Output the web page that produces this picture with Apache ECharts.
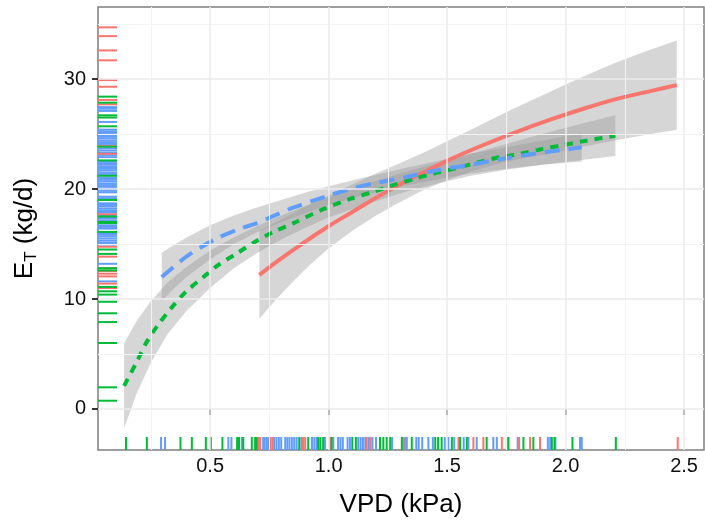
<!DOCTYPE html>
<html><head><meta charset="utf-8">
<script src="https://cdn.jsdelivr.net/npm/echarts@6/dist/echarts.min.js"></script>
<style>html,body{margin:0;padding:0;background:#fff}#c{width:705px;height:525px}</style>
</head><body><div id="c"></div>
<script>
// ---- axis ----
const xTicks = [0.5, 1.0, 1.5, 2.0, 2.5];
const xTickLabels = ['0.5', '1.0', '1.5', '2.0', '2.5'];
const xMinorGrid = [0.25, 0.75, 1.25, 1.75, 2.25];
const yTicks = [0, 10, 20, 30];
const yTickLabels = ['0', '10', '20', '30'];
const yMinorGrid = [5, 15, 25, 35];
const xRange = [0.027, 2.584];
const yRange = [-3.73, 36.55];

// ---- fitted lines ----
const redX = [0.708, 0.795, 0.894, 1.006, 1.091, 1.231, 1.372, 1.513, 1.653, 1.794, 1.935, 2.075, 2.216, 2.357, 2.469];
const redY = [12.2, 13.6, 15.1, 16.7, 17.8, 19.6, 21.2, 22.7, 24.0, 25.2, 26.3, 27.3, 28.2, 28.9, 29.45];
const greenX = [0.137, 0.191, 0.23, 0.279, 0.335, 0.40, 0.472, 0.535, 0.613, 0.69, 0.767, 0.852, 0.97, 1.091, 1.189, 1.274, 1.358, 1.442, 1.54, 1.625, 1.724, 1.81, 1.892, 1.99, 2.075, 2.21];
const greenY = [2.1, 4.3, 6.0, 7.6, 9.15, 10.7, 12.0, 13.1, 14.15, 15.2, 16.1, 16.9, 18.1, 19.1, 19.75, 20.35, 20.9, 21.4, 21.9, 22.4, 22.9, 23.2, 23.6, 24.0, 24.35, 24.85];
const blueX = [0.296, 0.345, 0.416, 0.528, 0.627, 0.697, 0.85, 1.0, 1.091, 1.189, 1.33, 1.456, 1.597, 1.724, 1.864, 2.005, 2.068];
const blueY = [12.0, 12.9, 14.1, 15.5, 16.4, 16.9, 18.3, 19.4, 20.0, 20.5, 21.1, 21.7, 22.2, 22.7, 23.2, 23.6, 23.8];

// ---- confidence bands ----
const redBandX = [0.708, 0.78, 0.85, 0.92, 1.0, 1.1, 1.2, 1.3, 1.4, 1.5, 1.6, 1.7, 1.8, 1.9, 2.0, 2.1, 2.2, 2.33, 2.469];
const redBandUp = [16.2, 17.0, 17.8, 18.6, 19.4, 20.4, 21.4, 22.35, 23.3, 24.35, 25.4, 26.45, 27.5, 28.5, 29.5, 30.45, 31.4, 32.45, 33.5];
const redBandLo = [8.2, 10.0, 11.6, 13.1, 14.6, 16.2, 17.6, 18.8, 19.9, 20.8, 21.6, 22.2, 22.7, 23.1, 23.5, 23.95, 24.4, 24.9, 25.4];
const greenBandX = [0.137, 0.19, 0.25, 0.32, 0.4, 0.5, 0.6, 0.7, 0.8, 0.9, 1.0, 1.15, 1.3, 1.45, 1.6, 1.75, 1.9, 2.05, 2.21];
const greenBandUp = [5.95, 8.0, 9.8, 11.5, 12.9, 14.4, 15.6, 16.65, 17.6, 18.45, 19.3, 20.4, 21.4, 22.3, 23.2, 24.1, 25.0, 25.85, 26.7];
const greenBandLo = [-1.75, 1.4, 4.2, 6.8, 8.9, 11.0, 12.8, 14.2, 15.4, 16.45, 17.4, 18.55, 19.6, 20.45, 21.2, 21.75, 22.2, 22.6, 23.0];
const blueBandX = [0.296, 0.35, 0.4, 0.5, 0.6, 0.7, 0.8, 0.9, 1.0, 1.15, 1.3, 1.45, 1.6, 1.75, 1.9, 2.068];
const blueBandUp = [14.2, 14.95, 15.6, 16.7, 17.6, 18.35, 19.0, 19.65, 20.25, 21.05, 21.8, 22.5, 23.2, 23.8, 24.4, 25.1];
const blueBandLo = [9.8, 11.0, 12.0, 13.6, 15.0, 16.1, 17.0, 17.8, 18.55, 19.45, 20.2, 20.85, 21.4, 21.85, 22.2, 22.5];

// ---- rugs (bottom: VPD values, left: E_T values) ----
const rugXRed = [0.704, 0.711, 0.753, 0.762, 0.892, 0.901, 1.006, 1.161, 1.177, 1.316, 1.548, 1.611, 1.653, 1.731, 1.804, 1.85, 1.892, 2.473];
const rugXGreen = [0.145, 0.233, 0.375, 0.423, 0.482, 0.503, 0.552, 0.614, 0.622, 0.64, 0.676, 0.69, 0.697, 0.876, 0.914, 0.956, 0.965, 0.977, 1.013, 1.10, 1.115, 1.217, 1.231, 1.245, 1.26, 1.309, 1.351, 1.45, 1.462, 1.477, 1.52, 1.555, 1.583, 1.667, 1.759, 1.822, 1.864, 1.942, 1.953, 2.029, 2.212];
const rugXBlue = [0.293, 0.31, 0.577, 0.59, 0.634, 0.724, 0.73, 0.738, 0.745, 0.77, 0.78, 0.79, 0.80, 0.817, 0.826, 0.835, 0.845, 0.855, 0.865, 0.885, 0.93, 0.94, 0.95, 0.985, 1.02, 1.04, 1.05, 1.06, 1.08, 1.09, 1.125, 1.135, 1.145, 1.155, 1.17, 1.185, 1.2, 1.268, 1.322, 1.33, 1.37, 1.38, 1.395, 1.421, 1.44, 1.49, 1.505, 1.53, 1.57, 1.59, 1.625, 1.695, 1.71, 1.752, 1.798, 1.925, 1.935, 1.957, 2.061, 2.068];
const rugYRed = [34.7, 33.9, 32.6, 31.7, 29.9, 29.3, 28.1, 27.7, 23.9, 23.2, 17.7, 14.75, 13.85, 12.8, 12.55, 12.3, 12.05, 11.4, 11.0];
const rugYGreen = [28.4, 27.85, 26.7, 26.5, 25.7, 23.85, 22.6, 21.2, 19.0, 17.5, 17.0, 16.9, 16.1, 14.5, 14.1, 12.8, 12.6, 11.1, 10.7, 10.4, 9.75, 8.7, 7.9, 6.0, 1.97, 0.75];
const rugYBlue = [27.45, 27.3, 27.1, 26.1, 25.4, 25.25, 25.1, 24.9, 24.75, 24.6, 24.4, 24.25, 24.1, 23.95, 23.7, 23.5, 23.3, 23.1, 22.9, 22.5, 22.35, 22.2, 22.0, 21.85, 21.7, 21.5, 21.35, 21.0, 20.85, 20.7, 20.5, 20.35, 20.2, 20.0, 19.85, 19.7, 19.3, 19.15, 18.7, 18.55, 18.4, 18.2, 18.0, 17.85, 17.6, 17.45, 17.3, 17.1, 16.7, 16.55, 16.4, 16.0, 15.85, 15.7, 15.5, 15.3, 15.1, 14.95, 13.2, 11.6];

// ---- styling ----
const RED = '#F8766D', GREEN = '#00BA38', BLUE = '#619CFF';
const BAND = 'rgba(153,153,153,0.4)';
const FONT = 'Liberation Sans';

function bandSeries(xs, lo, up) {
  return { type: 'custom', data: xs.map((x, i) => [x, lo[i], up[i]]), encode: { x: 0, y: [1, 2] }, silent: true,
    renderItem: (params, api) => {
      if (params.dataIndex !== 0) return null;
      const pts = [];
      for (let i = 0; i < xs.length; i++) pts.push(api.coord([xs[i], up[i]]));
      for (let i = xs.length - 1; i >= 0; i--) pts.push(api.coord([xs[i], lo[i]]));
      return { type: 'polygon', shape: { points: pts }, style: { fill: BAND, stroke: null } };
    } };
}
function lineSeries(xs, ys, color, type) {
  return { type: 'line', data: xs.map((x, i) => [x, ys[i]]), smooth: 0.3, symbol: 'none',
    lineStyle: { color: color, width: 4, type: type, cap: 'butt' }, silent: true };
}
function rugBottom(xs, color) {
  return { type: 'custom', data: xs.map(x => [x, yRange[0]]), encode: { x: 0, y: 1 }, silent: true, clip: false,
    renderItem: (p, api) => {
      const c = api.coord([api.value(0), yRange[0]]);
      return { type: 'line', shape: { x1: c[0], y1: c[1], x2: c[0], y2: c[1] - 13 }, style: { stroke: color, lineWidth: 2 } };
    } };
}
function rugLeft(ys, color) {
  return { type: 'custom', data: ys.map(y => [xRange[0], y]), encode: { x: 0, y: 1 }, silent: true, clip: false,
    renderItem: (p, api) => {
      const c = api.coord([xRange[0], api.value(1)]);
      return { type: 'line', shape: { x1: c[0], y1: c[1], x2: c[0] + 19, y2: c[1] }, style: { stroke: color, lineWidth: 2 } };
    } };
}

const gridSeries = {
  type: 'line', data: [], silent: true,
  markLine: {
    silent: true, symbol: 'none', label: { show: false }, animation: false,
    data: [
      ...xMinorGrid.map(v => ({ xAxis: v, lineStyle: { color: '#F3F3F3', width: 1, type: 'solid' } })),
      ...yMinorGrid.map(v => ({ yAxis: v, lineStyle: { color: '#F3F3F3', width: 1, type: 'solid' } })),
      ...xTicks.map(v => ({ xAxis: v, lineStyle: { color: '#EBEBEB', width: 1.5, type: 'solid' } })),
      ...yTicks.map(v => ({ yAxis: v, lineStyle: { color: '#EBEBEB', width: 1.5, type: 'solid' } }))
    ]
  }
};

const series = [
  gridSeries,
  rugBottom(rugXBlue, BLUE), rugBottom(rugXRed, RED), rugBottom(rugXGreen, GREEN),
  rugLeft(rugYBlue, BLUE), rugLeft(rugYRed, RED), rugLeft(rugYGreen, GREEN),
  bandSeries(redBandX, redBandLo, redBandUp), lineSeries(redX, redY, RED, 'solid'),
  bandSeries(greenBandX, greenBandLo, greenBandUp), lineSeries(greenX, greenY, GREEN, [8, 7]),
  bandSeries(blueBandX, blueBandLo, blueBandUp), lineSeries(blueX, blueY, BLUE, [15, 9])
];

const chart = echarts.init(document.getElementById('c'), null, { renderer: 'canvas' });
chart.setOption({
  animation: false,
  backgroundColor: '#ffffff',
  textStyle: { fontFamily: FONT },
  grid: { left: 98, right: 1, top: 7, bottom: 75, show: true, borderColor: '#7f7f7f', borderWidth: 1.5, backgroundColor: '#ffffff' },
  xAxis: {
    type: 'value', min: xRange[0], max: xRange[1],
    axisLine: { show: false },
    axisTick: { show: true, customValues: xTicks, length: 6, lineStyle: { color: '#333', width: 2 } },
    axisLabel: { customValues: xTicks, formatter: v => xTickLabels[xTicks.findIndex(t => Math.abs(t - v) < 1e-6)] || '',
      color: '#111', fontSize: 20, fontFamily: FONT, margin: 6 },
    splitLine: { show: false },
    name: 'VPD (kPa)', nameLocation: 'middle', nameGap: 42,
    nameTextStyle: { fontSize: 26, color: '#000', fontFamily: FONT }
  },
  yAxis: {
    type: 'value', min: yRange[0], max: yRange[1],
    axisLine: { show: false },
    axisTick: { show: true, customValues: yTicks, length: 6, lineStyle: { color: '#333', width: 2 } },
    axisLabel: { customValues: yTicks, formatter: v => yTickLabels[yTicks.findIndex(t => Math.abs(t - v) < 1e-6)] || '',
      color: '#111', fontSize: 20, fontFamily: FONT, margin: 12 },
    splitLine: { show: false },
    name: '{a|E}{b|T}{a| (kg/d)}', nameLocation: 'middle', nameGap: 58, nameRotate: 90,
    nameTextStyle: { color: '#000', fontFamily: FONT,
      rich: { a: { fontSize: 26, fontFamily: FONT, color: '#000', lineHeight: 30 },
              b: { fontSize: 17, fontFamily: FONT, color: '#000', lineHeight: 18, verticalAlign: 'bottom', padding: [12, 0, 0, 0] } } }
  },
  series: series
});
</script></body></html>
